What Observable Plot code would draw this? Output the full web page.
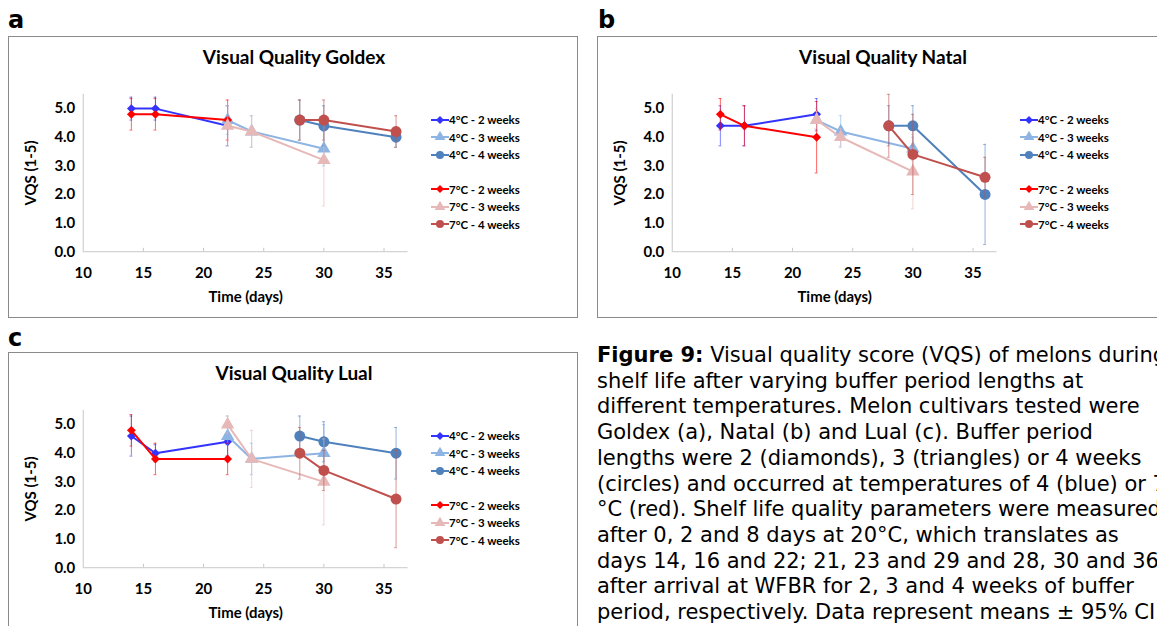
<!DOCTYPE html>
<html>
<head>
<meta charset="utf-8">
<script src="https://cdn.jsdelivr.net/npm/d3@7"></script>
<script src="https://cdn.jsdelivr.net/npm/@observablehq/plot@0.6"></script>
<style>
  body { margin: 0; background: #fff; width: 1157px; height: 626px; overflow: hidden; position: relative; font-family: Lato, "Open Sans", sans-serif; }
  .letter { position: absolute; font-family: "DejaVu Sans", sans-serif; font-weight: bold; font-size: 24px; }
  .panel { position: absolute; width: 568px; height: 280px; border: 1px solid #8a8a8a; background: #fff; overflow: hidden; }
  .panel .title { position: absolute; left: 0; width: 570px; top: 8px; text-align: center; font-family: Lato, sans-serif; font-weight: bold; font-size: 19px; }
  .panel svg.plot { position: absolute; left: 0; top: 0; }
  .panel svg.plot text { font-size: 15px; font-weight: bold; }
  .legend { position: absolute; left: 422px; top: 74px; font-family: Lato, sans-serif; font-weight: bold; font-size: 11.5px; }
  .legend div { height: 17.5px; display: flex; align-items: center; white-space: nowrap; }
  .legend .gap { height: 17px; }
  .caption { position: absolute; left: 597px; top: 343px; font-family: "DejaVu Sans", Verdana, sans-serif; font-size: 21px; line-height: 25.7px; white-space: nowrap; }
</style>
</head>
<body>
<div class="letter" style="left:8px;top:6px">a</div>
<div class="letter" style="left:598px;top:6px">b</div>
<div class="letter" style="left:8px;top:324px">c</div>
<div class="panel" id="pa" style="left:8px;top:36px"></div>
<div class="panel" id="pb" style="left:597px;top:36px"></div>
<div class="panel" id="pc" style="left:8px;top:352px"></div>
<div class="caption"><b>Figure 9:</b> Visual quality score (VQS) of melons during<br>shelf life after varying buffer period lengths at<br>different temperatures. Melon cultivars tested were<br>Goldex (a), Natal (b) and Lual (c). Buffer period<br>lengths were 2 (diamonds), 3 (triangles) or 4 weeks<br>(circles) and occurred at temperatures of 4 (blue) or 7<br>°C (red). Shelf life quality parameters were measured<br>after 0, 2 and 8 days at 20°C, which translates as<br>days 14, 16 and 22; 21, 23 and 29 and 28, 30 and 36<br>after arrival at WFBR for 2, 3 and 4 weeks of buffer<br>period, respectively. Data represent means ± 95% CI.</div>
<script>
// series definitions
var seriesNames = ["4°C - 2 weeks", "4°C - 3 weeks", "4°C - 4 weeks", "7°C - 2 weeks", "7°C - 3 weeks", "7°C - 4 weeks"];
var seriesColors = ["#3333ff", "#8db4e2", "#4f81bd", "#ff0000", "#e6b9b8", "#c0504d"];
var seriesSymbols = ["diamond2", "triangle", "circle", "diamond2", "triangle", "circle"];
var seriesSizes = [4, 5, 5.5, 4, 5, 5.5];
var seriesDays = [[14, 16, 22], [22, 24, 30], [28, 30, 36], [14, 16, 22], [22, 24, 30], [28, 30, 36]];

// VQS means per series, and 95% CI half-widths
var goldexVqs = [[5.0, 5.0, 4.4], [4.6, 4.2, 3.6], [4.6, 4.4, 4.0], [4.8, 4.8, 4.6], [4.4, 4.2, 3.2], [4.6, 4.6, 4.2]];
var goldexErr = [[0.4, 0.4, 0.7], [0.5, 0.55, 0.6], [0.7, 0.7, 0.35], [0.55, 0.55, 0.7], [0.7, 0.55, 1.6], [0.7, 0.7, 0.55]];
var natalVqs = [[4.4, 4.4, 4.8], [4.6, 4.2, 3.6], [4.4, 4.4, 2.0], [4.8, 4.4, 4.0], [4.6, 4.0, 2.8], [4.4, 3.4, 2.6]];
var natalErr = [[0.7, 0.7, 0.55], [0.4, 0.55, 0.4], [0.7, 0.7, 1.75], [0.55, 0.7, 1.25], [0.3, 0.3, 1.3], [1.1, 1.4, 0.7]];
var lualVqs = [[4.6, 4.0, 4.4], [4.6, 3.8, 4.0], [4.6, 4.4, 4.0], [4.8, 3.8, 3.8], [5.0, 3.8, 3.0], [4.0, 3.4, 2.4]];
var lualErr = [[0.7, 0.3, 0.5], [0.7, 0.55, 1.0], [0.7, 0.7, 0.9], [0.55, 0.55, 0.55], [0.3, 1.0, 1.5], [0.9, 0.7, 1.7]];

var xTicks = [10, 15, 20, 25, 30, 35];
var yTicks = [0, 1, 2, 3, 4, 5];

function buildRows(vqs, err) {
    var rows = [];
    seriesNames.forEach(function(name, s) {
        seriesDays[s].forEach(function(day, i) {
            rows.push({ series: name, s: s, day: day, vqs: vqs[s][i], err: err[s][i] });
        });
    });
    return rows;
}

function renderPanel(id, title, vqs, err) {
    var container = document.getElementById(id);
    var t = document.createElement('div');
    t.className = 'title';
    t.textContent = 'Visual Quality ' + title;
    container.appendChild(t);

    var data = buildRows(vqs, err);
    var marks = [
        Plot.ruleY([0], { stroke: "#c8c8c8" }),
        Plot.ruleX([10], { y1: 0, y2: 5.5, stroke: "#c8c8c8" }),
        Plot.ruleX(xTicks.slice(1), { y1: 0, y2: 0.12, stroke: "#c8c8c8" })
    ];
    seriesNames.forEach(function(name, s) {
        var rows = data.filter(function(d) { return d.s === s; });
        var c = seriesColors[s];
        marks.push(Plot.ruleX(rows, { x: "day", y1: function(d) { return d.vqs - d.err; }, y2: function(d) { return d.vqs + d.err; }, stroke: c, strokeOpacity: 0.6, strokeWidth: 1 }));
        marks.push(Plot.ruleY(rows, { y: function(d) { return d.vqs - d.err; }, x1: function(d) { return d.day - 0.12; }, x2: function(d) { return d.day + 0.12; }, stroke: c, strokeOpacity: 0.6 }));
        marks.push(Plot.ruleY(rows, { y: function(d) { return d.vqs + d.err; }, x1: function(d) { return d.day - 0.12; }, x2: function(d) { return d.day + 0.12; }, stroke: c, strokeOpacity: 0.6 }));
        marks.push(Plot.line(rows, { x: "day", y: "vqs", stroke: c, strokeWidth: 2 }));
        marks.push(Plot.dot(rows, { x: "day", y: "vqs", fill: c, stroke: "none", symbol: seriesSymbols[s], r: seriesSizes[s] }));
    });

    var plot = Plot.plot({
        width: 570,
        height: 281,
        marginLeft: 74,
        marginRight: 170,
        marginTop: 57,
        marginBottom: 66,
        style: { fontFamily: "Lato, sans-serif", background: "transparent", overflow: "visible" },
        x: { domain: [10, 37], ticks: xTicks, tickSize: 0, tickPadding: 16, label: "Time (days)", labelArrow: "none", labelAnchor: "center", labelOffset: 50 },
        y: { domain: [0, 5.5], ticks: yTicks, tickSize: 0, tickPadding: 8, tickFormat: d3.format(".1f"), label: "VQS (1-5)", labelArrow: "none", labelAnchor: "center", labelOffset: 58 },
        marks: marks
    });
    plot.classList.add('plot');
    container.appendChild(plot);

    // legend
    var lg = document.createElement('div');
    lg.className = 'legend';
    seriesNames.forEach(function(name, s) {
        if (s === 3) { var g = document.createElement('div'); g.className = 'gap'; lg.appendChild(g); }
        var row = document.createElement('div');
        var sym = d3.create('svg').attr('width', 18).attr('height', 12);
        sym.append('line').attr('x1', 0).attr('x2', 18).attr('y1', 6).attr('y2', 6).attr('stroke', seriesColors[s]).attr('stroke-width', 2);
        sym.append('path').attr('transform', 'translate(9,6)').attr('fill', seriesColors[s])
            .attr('d', d3.symbol(s % 3 === 0 ? d3.symbolDiamond2 : s % 3 === 1 ? d3.symbolTriangle : d3.symbolCircle, s % 3 === 0 ? 40 : 50)());
        row.appendChild(sym.node());
        var span = document.createElement('span');
        span.textContent = name;
        row.appendChild(span);
        lg.appendChild(row);
    });
    container.appendChild(lg);
}

renderPanel('pa', 'Goldex', goldexVqs, goldexErr);
renderPanel('pb', 'Natal', natalVqs, natalErr);
renderPanel('pc', 'Lual', lualVqs, lualErr);
</script>
</body>
</html>
